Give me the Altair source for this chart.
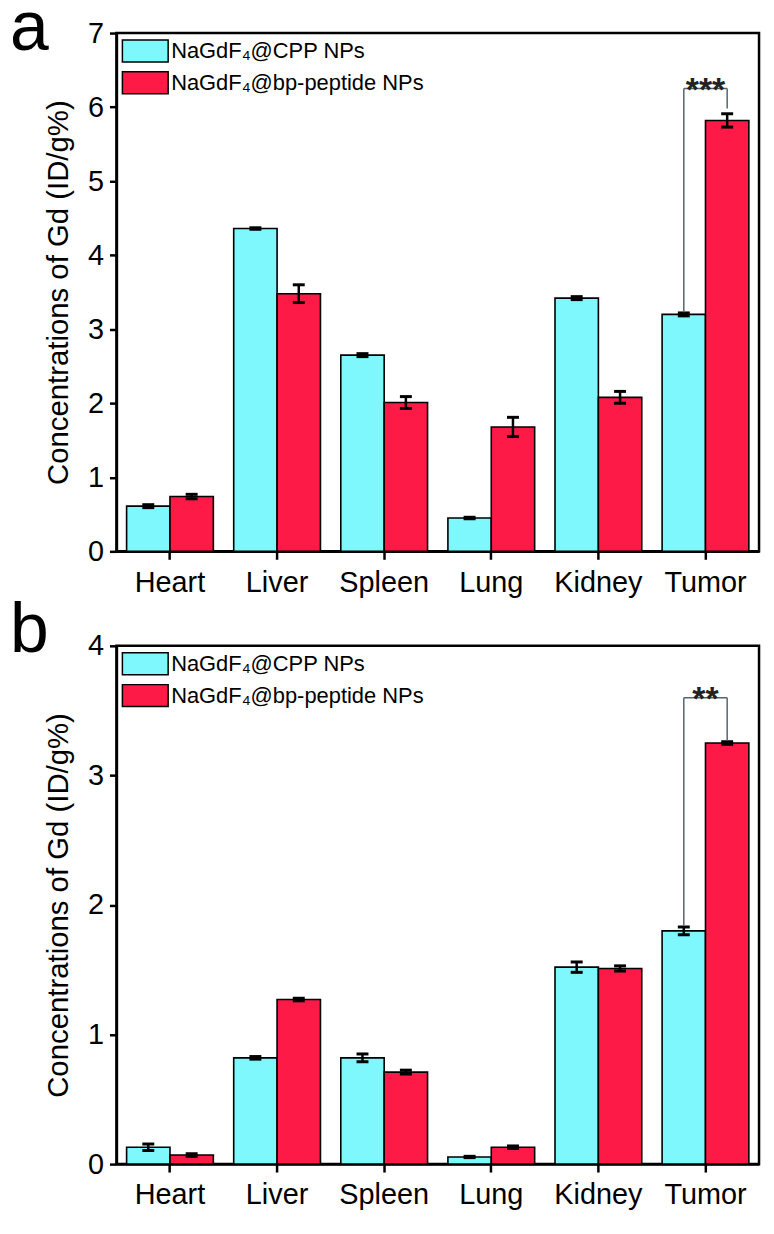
import altair as alt
import pandas as pd

organs = ["Heart", "Liver", "Spleen", "Lung", "Kidney", "Tumor"]
series = ["NaGdF₄@CPP NPs", "NaGdF₄@bp-peptide NPs"]
colors = ["#7ef7fd", "#fe1a46"]

# panel a
a_cpp = [0.61, 4.36, 2.65, 0.45, 3.42, 3.20]
a_cpp_err = [0.02, 0.01, 0.02, 0.01, 0.02, 0.02]
a_bp = [0.74, 3.48, 2.01, 1.68, 2.08, 5.82]
a_bp_err = [0.03, 0.12, 0.08, 0.13, 0.08, 0.09]
a_bracket = [3.23, 5.98, 6.25]   # left bottom, right bottom, top
a_sig = "***"

# panel b
b_cpp = [0.13, 0.82, 0.82, 0.055, 1.52, 1.80]
b_cpp_err = [0.025, 0.01, 0.03, 0.005, 0.04, 0.03]
b_bp = [0.07, 1.27, 0.71, 0.13, 1.51, 3.25]
b_bp_err = [0.01, 0.01, 0.015, 0.01, 0.02, 0.01]
b_bracket = [1.84, 3.27, 3.60]
b_sig = "**"

FONT = "Liberation Sans, Arial, sans-serif"
NARROW = "Liberation Sans Narrow, Arial Narrow, Liberation Sans, sans-serif"
GRAY = "#56656d"
YTITLE = "Concentrations of Gd (ID/g%)"


def make_df(cpp, cpp_err, bp, bp_err):
    rows = []
    for i, o in enumerate(organs):
        rows.append(dict(organ=o, series=series[0], value=cpp[i], err=cpp_err[i]))
        rows.append(dict(organ=o, series=series[1], value=bp[i], err=bp_err[i]))
    df = pd.DataFrame(rows)
    df["lo"] = df["value"] - df["err"]
    df["hi"] = df["value"] + df["err"]
    return df


def panel(df, ymax, bracket, sig, letter, letter_y):
    xenc = alt.X("organ:N", sort=organs,
                 scale=alt.Scale(domain=organs, paddingInner=0.19, paddingOuter=0.095),
                 axis=alt.Axis(title=None, labelAngle=0))
    xo = alt.XOffset("series:N", sort=series,
                     scale=alt.Scale(domain=series, paddingInner=0, paddingOuter=0))

    def Y(field):
        return alt.Y(field, scale=alt.Scale(domain=[0, ymax], nice=False, zero=True),
                     axis=alt.Axis(values=list(range(ymax + 1)), title=YTITLE, format="d"))

    base = alt.Chart(df)
    bars = base.mark_bar(stroke="black", strokeWidth=1.6).encode(
        x=xenc, xOffset=xo, y=Y("value:Q"),
        color=alt.Color("series:N", scale=alt.Scale(domain=series, range=colors), legend=None))
    err = base.mark_rule(color="black", strokeWidth=2.5).encode(
        x=xenc, xOffset=xo, y=Y("lo:Q"), y2="hi:Q")
    cap_lo = base.mark_tick(color="black", thickness=3, size=12, opacity=1).encode(
        x=xenc, xOffset=xo, y=Y("lo:Q"))
    cap_hi = base.mark_tick(color="black", thickness=3, size=12, opacity=1).encode(
        x=xenc, xOffset=xo, y=Y("hi:Q"))

    br_df = pd.DataFrame({"organ": ["Tumor", "Tumor"], "series": series,
                          "lo": [bracket[0], bracket[1]], "hi": [bracket[2], bracket[2]]})
    br_v = alt.Chart(br_df).mark_rule(color=GRAY, strokeWidth=1.5).encode(
        x=xenc, xOffset=xo, y=Y("lo:Q"), y2="hi:Q")
    top_df = pd.DataFrame({"organ": ["Tumor"], "top": [bracket[2]], "label": [sig]})
    br_h = alt.Chart(top_df).mark_bar(width=alt.RelativeBandSize(0.5), fillOpacity=0,
                                      stroke=GRAY, strokeWidth=1.5).encode(
        x=xenc, y=Y("top:Q"), y2="top:Q")
    star = alt.Chart(top_df).mark_text(fontSize=34, fontWeight="bold", font=FONT,
                                       baseline="alphabetic", dy=12, color="#222").encode(
        x=xenc, y=Y("top:Q"), text="label:N")

    layers = [bars, err, cap_lo, cap_hi, br_v, br_h, star]
    # legend inside plot
    for k in range(2):
        ldf = pd.DataFrame({"s": [series[k]]})
        layers.append(alt.Chart(ldf).mark_rect(fill=colors[k], stroke="black", strokeWidth=1.5).encode(
            x=alt.value(6), x2=alt.value(52), y=alt.value(7 + 32 * k), y2=alt.value(29 + 32 * k)))
        layers.append(alt.Chart(ldf).mark_text(align="left", baseline="middle", fontSize=22,
                                               font=NARROW, color="black").encode(
            x=alt.value(55), y=alt.value(18 + 32 * k), text="s:N"))
    ldf = pd.DataFrame({"t": [letter]})
    layers.append(alt.Chart(ldf).mark_text(align="left", baseline="alphabetic", fontSize=70,
                                           font=FONT, color="black").encode(
        x=alt.value(-107), y=alt.value(letter_y), text="t:N"))
    return alt.layer(*layers).properties(width=646, height=521)


pa = panel(make_df(a_cpp, a_cpp_err, a_bp, a_bp_err), 7, a_bracket, a_sig, "a", 17)
pb = panel(make_df(b_cpp, b_cpp_err, b_bp, b_bp_err), 4, b_bracket, b_sig, "b", 6)

chart = alt.vconcat(pa, pb, spacing=95, bounds="flush").properties(
    padding={"left": 0, "top": -19, "right": 5, "bottom": 5}
).configure_view(stroke="black", strokeWidth=2.5).configure_axis(
    domainColor="black", domainWidth=2.5, tickColor="black", tickWidth=2.5,
    labelColor="black", labelFont=FONT, labelFontSize=29, titleFont=FONT,
    titleFontSize=29.5, titleFontWeight="normal", titleColor="black", grid=False
).configure_axisY(tickSize=7, labelPadding=6, titlePadding=14).configure_axisX(
    tickSize=8, labelPadding=9)

chart.save("out.html", embed_options={"renderer": "svg", "actions": False})
